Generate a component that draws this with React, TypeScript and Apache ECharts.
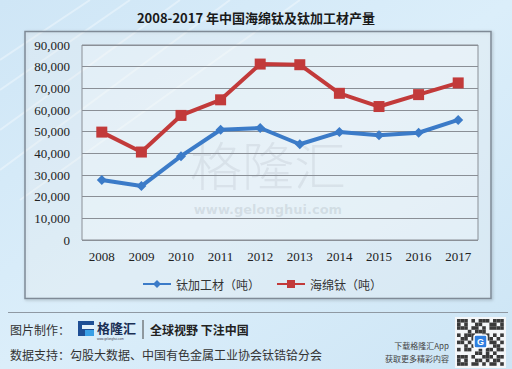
import React, { useEffect, useRef } from "react";
import * as echarts from "echarts";

const years = ["2008", "2009", "2010", "2011", "2012", "2013", "2014", "2015", "2016", "2017"];
const titaniumProducts = [27700, 24900, 38700, 50900, 51700, 44200, 49800, 48300, 49500, 55400];
const titaniumSponge = [49800, 40600, 57500, 64700, 81200, 80900, 67700, 61600, 67100, 72500];
const seriesNames = ["钛加工材（吨）", "海绵钛（吨）"];
const titleText = "2008-2017 年中国海绵钛及钛加工材产量";
const footerMaker = "图片制作：";
const footerSlogan = "全球视野 下注中国";
const footerSource = "数据支持：勾股大数据、中国有色金属工业协会钛锆铪分会";
const appLine1 = "下载格隆汇App";
const appLine2 = "获取更多精彩内容";

const CJK = '"Noto Sans CJK SC", "Noto Sans", sans-serif';
const SERIF = '"Liberation Serif", "DejaVu Serif", serif';

function qrBlocks() {
  // fixed decorative pattern for QR-like badge
  const pattern = [
    "1110101110111",
    "1010011001101",
    "1110110101111",
    "0001011100000",
    "1011100110101",
    "0110101011010",
    "1101011101101",
    "0010110100110",
    "1011001011011",
    "0000011010100",
    "1110100111011",
    "1010011010110",
    "1110110101101",
  ];
  const out: any[] = [];
  const x0 = 457, y0 = 319, s = 3.6;
  pattern.forEach((row, r) => {
    row.split("").forEach((c, col) => {
      if (c === "1") {
        out.push({
          type: "rect",
          shape: { x: x0 + col * s, y: y0 + r * s, width: s, height: s },
          style: { fill: "#3a3a3a" },
          z: 20,
        });
      }
    });
  });
  return out;
}

export default function App() {
  const ref = useRef<HTMLDivElement>(null);
  useEffect(() => {
    document.body.style.margin = "0";
    const chart = echarts.init(ref.current!, null, { renderer: "svg" });
    const streaks: any[] = [];
    const streakDefs = [
      [0, 60, 90, 0],
      [0, 90, 130, 0],
      [0, 130, 180, 0],
      [0, 170, 230, 0],
      [20, 200, 300, 0],
    ];
    streakDefs.forEach((d) => {
      streaks.push({
        type: "line",
        shape: { x1: d[0], y1: d[1], x2: d[2], y2: d[3] },
        style: { stroke: "rgba(255,255,255,0.35)", lineWidth: 2 },
        z: -20,
        silent: true,
      });
    });
    chart.setOption({
      animation: false,
      backgroundColor: {
        type: "linear",
        x: 0, y: 0, x2: 1, y2: 1,
        colorStops: [
          { offset: 0, color: "#cfe6f6" },
          { offset: 0.5, color: "#dbeefa" },
          { offset: 1, color: "#cde5f5" },
        ],
      },
      title: {
        text: titleText,
        left: "center",
        top: 6,
        textStyle: { fontFamily: CJK, fontSize: 13, fontWeight: "bold", color: "#1a1a1a" },
      },
      legend: {
        left: 137,
        top: 273,
        itemWidth: 28,
        itemHeight: 10,
        itemGap: 16,
        textStyle: { fontFamily: CJK, fontSize: 12, color: "#333" },
        data: seriesNames,
      },
      grid: {
        left: 82,
        top: 45,
        right: 34,
        bottom: 129,
        show: true,
        borderColor: "#8a8f96",
        borderWidth: 1,
        backgroundColor: "rgba(255,255,255,0.25)",
      },
      xAxis: {
        type: "category",
        data: years,
        boundaryGap: true,
        axisLine: { show: false },
        axisTick: { show: false },
        axisLabel: { fontFamily: SERIF, fontSize: 13, color: "#222", margin: 10 },
      },
      yAxis: {
        type: "value",
        min: 0,
        max: 90000,
        interval: 10000,
        axisLine: { show: false },
        axisTick: { show: false },
        splitLine: { lineStyle: { color: "#8a8f96", width: 1 } },
        axisLabel: {
          fontFamily: SERIF,
          fontSize: 13,
          color: "#222",
          margin: 12,
          formatter: (v: number) => v.toLocaleString("en-US"),
        },
      },
      series: [
        {
          name: seriesNames[0],
          type: "line",
          data: titaniumProducts,
          symbol: "diamond",
          symbolSize: 10,
          lineStyle: { color: "#3b7bc8", width: 4 },
          itemStyle: { color: "#3b7bc8" },
          z: 5,
        },
        {
          name: seriesNames[1],
          type: "line",
          data: titaniumSponge,
          symbol: "rect",
          symbolSize: 11,
          lineStyle: { color: "#c23a3a", width: 4 },
          itemStyle: { color: "#c23a3a" },
          z: 5,
        },
      ],
      graphic: [
        ...streaks,
        {
          type: "rect",
          shape: { x: 25, y: 31.5, width: 466, height: 267 },
          style: { fill: "rgba(255,255,255,0.22)", stroke: "#7f8a96", lineWidth: 1.5, shadowBlur: 3, shadowOffsetX: 1, shadowOffsetY: 1, shadowColor: "rgba(0,0,0,0.25)" },
          z: -10,
          silent: true,
        },
        {
          type: "text",
          x: 268,
          y: 163,
          style: { text: "格隆汇", font: `300 52px ${CJK}`, fill: "rgba(140,150,160,0.16)", align: "center", verticalAlign: "middle" },
          z: 1,
          silent: true,
        },
        {
          type: "text",
          x: 268,
          y: 209,
          style: { text: "www.gelonghui.com", font: `bold 13px "DejaVu Sans", sans-serif`, fill: "rgba(140,150,160,0.22)", align: "center", verticalAlign: "middle" },
          z: 1,
          silent: true,
        },
        {
          type: "line",
          shape: { x1: 8, y1: 312.5, x2: 508, y2: 312.5 },
          style: { stroke: "#8f99a3", lineWidth: 1 },
        },
        {
          type: "text",
          x: 10,
          y: 329,
          style: { text: footerMaker, font: `12px ${CJK}`, fill: "#333", verticalAlign: "middle" },
        },
        // logo icon
        {
          type: "rect",
          shape: { x: 78, y: 321, width: 16, height: 15 },
          style: { fill: "#1f4f95" },
        },
        {
          type: "rect",
          shape: { x: 82, y: 325, width: 12, height: 4 },
          style: { fill: "#e6f2fb" },
        },
        {
          type: "polygon",
          shape: { points: [[85, 330], [94, 330], [94, 336], [85, 336]] },
          style: { fill: "#3aa0e6" },
        },
        {
          type: "text",
          x: 97,
          y: 327,
          style: { text: "格隆汇", font: `bold 13px ${CJK}`, fill: "#1a2f55", verticalAlign: "middle" },
        },
        {
          type: "text",
          x: 97,
          y: 338.5,
          style: { text: "www.gelonghui.com", font: `3px sans-serif`, fill: "#445", verticalAlign: "middle" },
        },
        {
          type: "line",
          shape: { x1: 143, y1: 320, x2: 143, y2: 339 },
          style: { stroke: "#444", lineWidth: 1 },
        },
        {
          type: "text",
          x: 150,
          y: 329,
          style: { text: footerSlogan, font: `bold 12px ${CJK}`, fill: "#222", verticalAlign: "middle" },
        },
        {
          type: "text",
          x: 10,
          y: 354,
          style: { text: footerSource, font: `12px ${CJK}`, fill: "#333", verticalAlign: "middle" },
        },
        {
          type: "text",
          x: 449,
          y: 345,
          style: { text: appLine1, font: `8px ${CJK}`, fill: "#444", align: "right", verticalAlign: "middle" },
        },
        {
          type: "text",
          x: 449,
          y: 358,
          style: { text: appLine2, font: `8px ${CJK}`, fill: "#444", align: "right", verticalAlign: "middle" },
        },
        {
          type: "rect",
          shape: { x: 455, y: 317, width: 51, height: 51 },
          style: { fill: "#f4f6f8" },
          z: 19,
        },
        ...qrBlocks(),
        {
          type: "rect",
          shape: { x: 474, y: 335, width: 13, height: 13, r: 2 },
          style: { fill: "#2f7fe0", stroke: "#fff", lineWidth: 1.5 },
          z: 21,
        },
        {
          type: "text",
          x: 480.5,
          y: 341.5,
          style: { text: "G", font: `bold 9px sans-serif`, fill: "#fff", align: "center", verticalAlign: "middle" },
          z: 22,
        },
      ],
    });
    return () => chart.dispose();
  }, []);
  return <div ref={ref} style={{ width: 512, height: 369, position: "absolute", left: 0, top: 0 }} />;
}
